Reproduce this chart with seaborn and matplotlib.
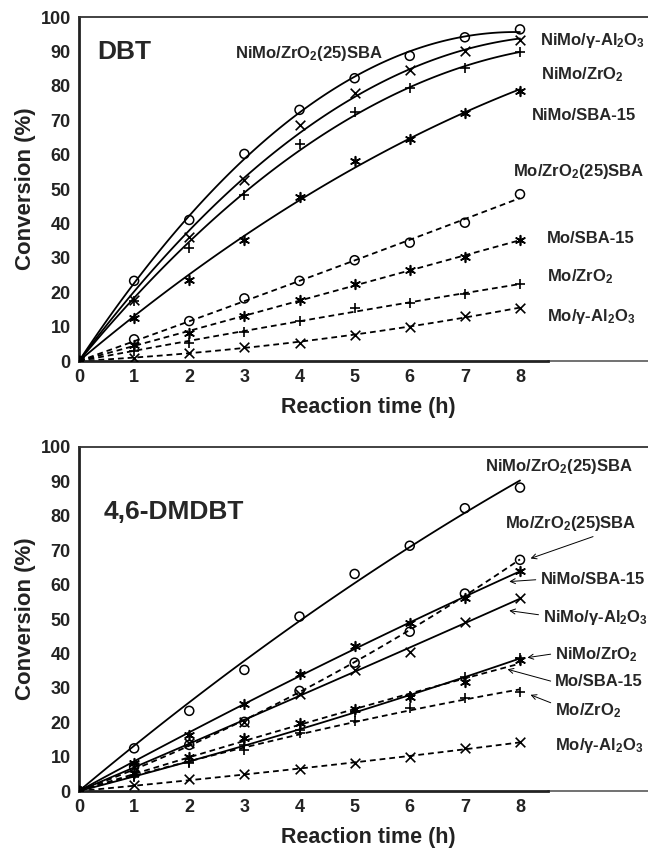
import numpy as np
import matplotlib
matplotlib.use("Agg")
import matplotlib.pyplot as plt
import seaborn as sns

# ---- data ----
hours = [0, 1, 2, 3, 4, 5, 6, 7, 8]

# DBT panel
dbt_nimo_zrsba = [0, 23.3, 41.0, 60.2, 73.0, 82.2, 88.7, 94.1, 96.4]
dbt_nimo_al = [0, 17.7, 36.0, 52.6, 68.6, 78.0, 84.6, 90.2, 93.3]
dbt_nimo_zr = [0, 17.5, 32.8, 48.3, 63.1, 72.3, 79.3, 85.3, 89.7]
dbt_nimo_sba = [0, 12.4, 23.5, 35.2, 47.8, 58.2, 64.4, 72.0, 78.6]
dbt_mo_zrsba = [0, 6.3, 11.6, 18.2, 23.3, 29.3, 34.4, 40.2, 48.5]
dbt_mo_sba = [0, 4.6, 8.0, 13.2, 17.7, 22.3, 26.5, 30.3, 35.2]
dbt_mo_zr = [0, 3.0, 5.1, 8.3, 11.6, 15.5, 17.0, 19.4, 22.3]
dbt_mo_al = [0, 1.0, 2.2, 4.2, 5.3, 7.5, 10.0, 13.1, 15.3]

# 4,6-DMDBT panel
dm_nimo_zrsba = [0, 12.4, 23.3, 35.2, 50.7, 63.1, 71.3, 82.2, 88.2]
dm_mo_zrsba = [0, 7.0, 13.4, 20.1, 29.1, 37.3, 46.3, 57.4, 67.2]
dm_nimo_sba = [0, 8.0, 16.3, 25.2, 33.9, 42.2, 48.7, 56.0, 64.0]
dm_nimo_al = [0, 7.0, 14.0, 20.1, 28.2, 35.2, 40.5, 49.2, 56.0]
dm_nimo_zr = [0, 4.5, 8.5, 13.4, 17.7, 23.0, 27.6, 33.2, 38.6]
dm_mo_sba = [0, 5.1, 10.0, 15.3, 19.7, 23.7, 27.2, 31.8, 38.2]
dm_mo_zr = [0, 4.0, 8.0, 11.9, 17.0, 20.3, 24.0, 26.9, 28.9]
dm_mo_al = [0, 1.7, 3.4, 4.8, 6.4, 8.2, 10.0, 12.4, 14.1]

ASTER = (6, 2, 0)

# (values, marker, dashed)
dbt_series = [
    (dbt_nimo_zrsba, "o", False),
    (dbt_nimo_al, "x", False),
    (dbt_nimo_zr, "+", False),
    (dbt_nimo_sba, ASTER, False),
    (dbt_mo_zrsba, "o", True),
    (dbt_mo_sba, ASTER, True),
    (dbt_mo_zr, "+", True),
    (dbt_mo_al, "x", True),
]
dm_series = [
    (dm_nimo_zrsba, "o", False),
    (dm_mo_zrsba, "o", True),
    (dm_nimo_sba, ASTER, False),
    (dm_nimo_al, "x", False),
    (dm_nimo_zr, "+", False),
    (dm_mo_sba, ASTER, True),
    (dm_mo_zr, "+", True),
    (dm_mo_al, "x", True),
]

# labels: text, text position, arrow target (None = no arrow), arrow start (relpos)
dbt_labels = [
    ("NiMo/ZrO$_2$(25)SBA", (2.83, 89.5), None, None),
    ("NiMo/γ-Al$_2$O$_3$", (8.37, 93.3), None, None),
    ("NiMo/ZrO$_2$", (8.38, 83.1), None, None),
    ("NiMo/SBA-15", (8.22, 71.5), None, None),
    ("Mo/ZrO$_2$(25)SBA", (7.88, 55.2), None, None),
    ("Mo/SBA-15", (8.48, 35.5), None, None),
    ("Mo/ZrO$_2$", (8.49, 24.4), None, None),
    ("Mo/γ-Al$_2$O$_3$", (8.49, 12.8), None, None),
]
dm_labels = [
    ("NiMo/ZrO$_2$(25)SBA", (7.37, 94.3), None, None),
    ("Mo/ZrO$_2$(25)SBA", (7.73, 77.8), (8.12, 67.2), (0.75, 0.0)),
    ("NiMo/SBA-15", (8.37, 61.5), (7.73, 60.8), (0.0, 0.5)),
    ("NiMo/γ-Al$_2$O$_3$", (8.42, 50.5), (7.73, 52.6), (0.0, 0.6)),
    ("NiMo/ZrO$_2$", (8.64, 39.7), (8.06, 38.6), (0.0, 0.55)),
    ("Mo/SBA-15", (8.64, 31.8), (7.70, 35.7), (0.0, 0.45)),
    ("Mo/ZrO$_2$", (8.64, 23.5), (8.12, 28.4), (0.0, 0.8)),
    ("Mo/γ-Al$_2$O$_3$", (8.64, 13.1), None, None),
]

# ---- style ----
sns.set_theme(style="white")
plt.rcParams["font.family"] = ["Liberation Sans", "DejaVu Sans"]
plt.rcParams["font.weight"] = "bold"
plt.rcParams["axes.labelweight"] = "bold"
plt.rcParams["mathtext.fontset"] = "custom"
plt.rcParams["mathtext.rm"] = "Liberation Sans:bold"
plt.rcParams["mathtext.bf"] = "Liberation Sans:bold"
plt.rcParams["mathtext.it"] = "Liberation Sans:bold"
plt.rcParams["mathtext.default"] = "rm"

W, H = 648, 851
fig = plt.figure(figsize=(W / 100, H / 100), dpi=100)
x0 = 79
unit = 55.125
xmax = (W - x0) / unit
ax1 = fig.add_axes([x0 / W, 1 - 361 / H, 1 - x0 / W, 344 / H])
ax2 = fig.add_axes([x0 / W, 1 - 791 / H, 1 - x0 / W, 344 / H])

grid = np.linspace(0, 8, 120)
hx = np.array(hours, dtype=float)


def origin_fit(vals):
    # quadratic trend line forced through the origin
    A = np.column_stack([hx, hx ** 2])
    c, *_ = np.linalg.lstsq(A, np.array(vals, dtype=float), rcond=None)
    return c[0] * grid + c[1] * grid ** 2


def draw_panel(ax, series, labels, title, title_pos):
    for vals, mk, dashed in series:
        fit = origin_fit(vals)
        ls = (0, (3.2, 2.2)) if dashed else "-"
        sns.lineplot(x=grid, y=fit, ax=ax, color="black", linewidth=1.3,
                     linestyle=ls)
        if mk == "o":
            sns.scatterplot(x=hours, y=vals, ax=ax, marker="o", s=42,
                            facecolor="none", edgecolor="black",
                            linewidth=1.1, zorder=3)
        else:
            sns.scatterplot(x=hours, y=vals, ax=ax, marker=mk, s=48,
                            color="black", linewidth=1.2, zorder=3)

    for txt, pos, target, rel in labels:
        if target is None:
            ax.text(pos[0], pos[1], txt, fontsize=12, fontweight="bold",
                    ha="left", va="center")
        else:
            ax.annotate(txt, xy=target, xytext=pos, fontsize=12,
                        fontweight="bold", ha="left", va="center",
                        arrowprops=dict(arrowstyle="->", color="black",
                                        lw=0.7, relpos=rel,
                                        shrinkA=1, shrinkB=3,
                                        mutation_scale=9))

    ax.text(title_pos[0], title_pos[1], title, fontsize=19,
            fontweight="bold", ha="left", va="center")

    ax.set_xlim(0, xmax)
    ax.set_ylim(0, 100)
    ax.set_xticks(range(0, 9))
    ax.set_yticks(range(0, 101, 10))
    ax.tick_params(axis="both", direction="out", length=4, width=1.4,
                   labelsize=13, pad=2, colors="#222222")
    for lab in ax.get_xticklabels() + ax.get_yticklabels():
        lab.set_fontweight("bold")
    ax.set_xlabel("Reaction time (h)", fontsize=15.5, fontweight="bold",
                  color="#222222")
    ax.xaxis.set_label_coords(5.25 / xmax, -0.105)
    ax.set_ylabel("Conversion (%)", fontsize=16, fontweight="bold",
                  color="#222222", labelpad=3)
    ax.spines["right"].set_visible(False)
    ax.spines["left"].set_linewidth(2.0)
    ax.spines["left"].set_color("#222222")
    ax.spines["top"].set_linewidth(1.3)
    ax.spines["top"].set_color("#333333")
    ax.spines["bottom"].set_linewidth(2.0)
    ax.spines["bottom"].set_color("#222222")
    ax.spines["bottom"].set_bounds(0, 8.5)
    ax.axhline(0, xmin=8.5 / xmax, xmax=1, color="#666666", lw=1.3,
               clip_on=False)


draw_panel(ax1, dbt_series, dbt_labels, "DBT", (0.33, 89.8))
draw_panel(ax2, dm_series, dm_labels, "4,6-DMDBT", (0.44, 81.2))

fig.savefig("out.png", dpi=100, facecolor="white")
